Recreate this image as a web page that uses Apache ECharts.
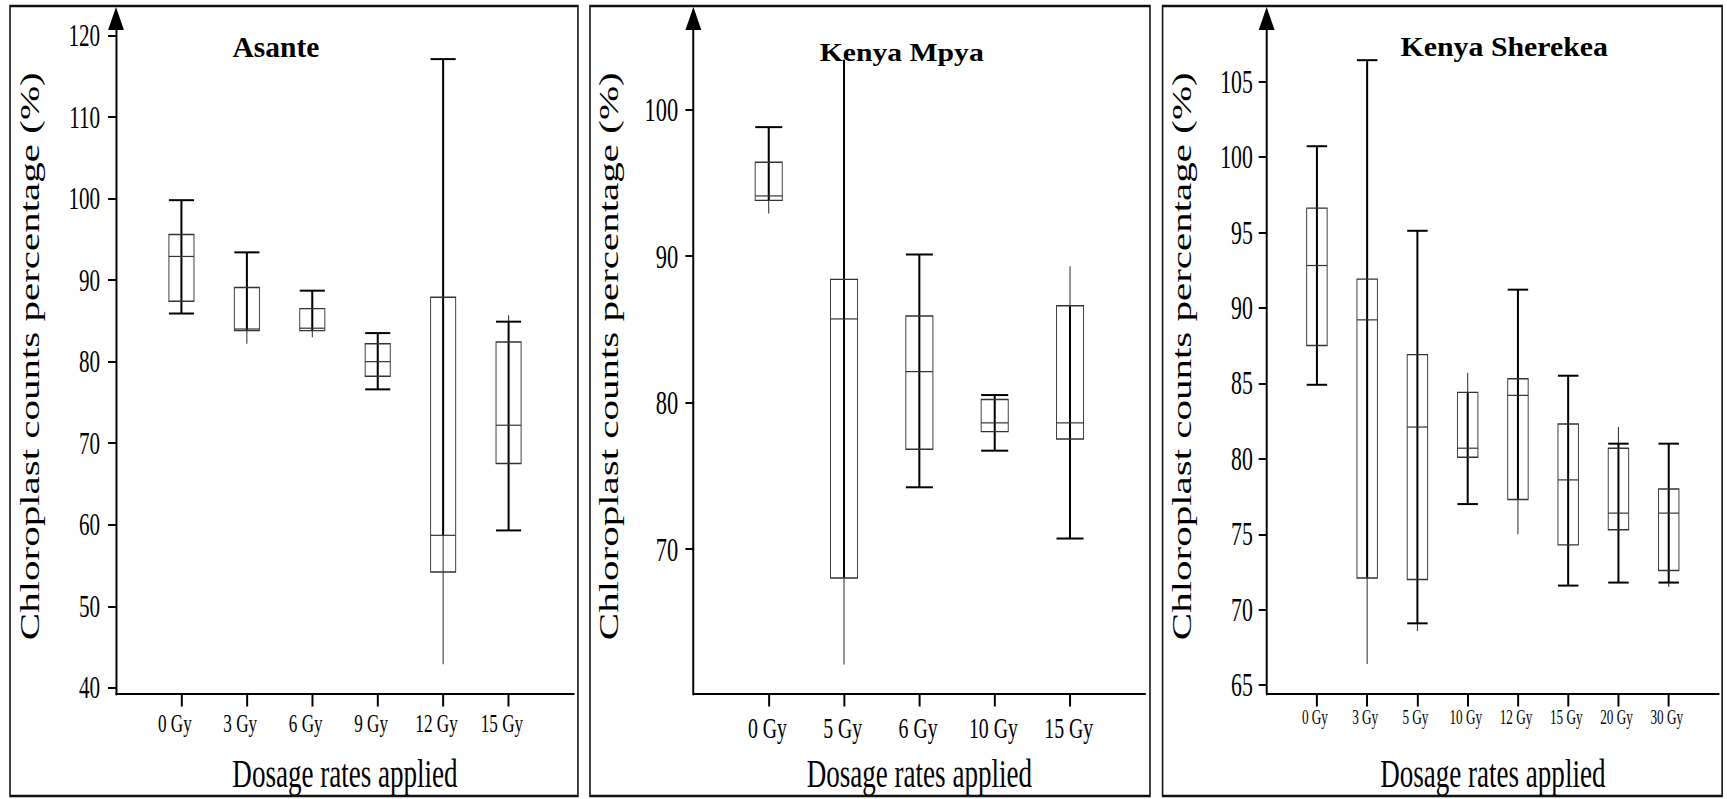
<!DOCTYPE html>
<html><head><meta charset="utf-8">
<script src="https://cdn.jsdelivr.net/npm/echarts@6/dist/echarts.min.js"></script>
<style>
html,body{margin:0;padding:0;overflow:hidden;background:#fff}
#wrap{width:1727px;height:799px;overflow:hidden;position:relative}
#chart{width:2617px;height:799px;transform:scaleX(0.65992);transform-origin:0 0}
</style></head><body><div id="wrap"><div id="chart"></div></div>
<script>
// ---------- Asante ----------
const asanteCategories = ['0 Gy','3 Gy','6 Gy','9 Gy','12 Gy','15 Gy'];
const asanteLow       = [85.9, 82.2, 83.0, 76.6, 42.9, 59.3];
const asanteThickLow  = [85.9, 83.8, 83.8, 76.6, 58.7, 59.3];
const asanteQ1        = [87.4, 83.8, 83.8, 78.2, 54.2, 67.5];
const asanteMedian    = [92.9, 84.0, 84.1, 80.0, 58.7, 72.2];
const asanteQ3        = [95.6, 89.1, 86.5, 82.2, 87.9, 82.4];
const asanteThickHigh = [99.8, 93.4, 88.7, 83.5, 117.1, 84.9];
const asanteHigh      = [99.8, 93.4, 88.7, 83.5, 117.1, 85.7];
const asanteCapLow    = [true, false, false, true, false, true];
const asanteCapHigh   = [true, true, true, true, true, true];
const asanteTicks     = [40, 50, 60, 70, 80, 90, 100, 110, 120];

// ---------- Kenya Mpya ----------
const mpyaCategories = ['0 Gy','5 Gy','6 Gy','10 Gy','15 Gy'];
const mpyaLow        = [92.9, 62.1, 74.2, 76.7, 70.7];
const mpyaThickLow   = [93.8, 68.0, 74.2, 76.7, 70.7];
const mpyaQ1         = [93.8, 68.0, 76.8, 78.0, 77.5];
const mpyaMedian     = [94.1, 85.7, 82.1, 78.6, 78.6];
const mpyaQ3         = [96.4, 88.4, 85.9, 80.2, 86.6];
const mpyaThickHigh  = [98.8, 103.4, 90.1, 80.5, 86.6];
const mpyaHigh       = [98.8, 103.4, 90.1, 80.5, 89.3];
const mpyaCapLow     = [false, false, true, true, true];
const mpyaCapHigh    = [true, false, true, true, false];
const mpyaTicks      = [70, 80, 90, 100];

// ---------- Kenya Sherekea ----------
const sherekeaCategories = ['0 Gy','3 Gy','5 Gy','10 Gy','12 Gy','15 Gy','20 Gy','30 Gy'];
const sherekeaLow        = [84.9, 66.4, 68.6, 77.0, 75.0, 71.6, 71.8, 71.5];
const sherekeaThickLow   = [84.9, 72.1, 69.1, 77.0, 77.3, 71.6, 71.8, 71.8];
const sherekeaQ1         = [87.5, 72.1, 72.0, 80.1, 77.3, 74.3, 75.3, 72.6];
const sherekeaMedian     = [92.8, 89.2, 82.1, 80.7, 84.2, 78.6, 76.4, 76.4];
const sherekeaQ3         = [96.6, 91.9, 86.9, 84.4, 85.3, 82.3, 80.7, 78.0];
const sherekeaThickHigh  = [100.7, 106.4, 95.1, 84.4, 91.2, 85.5, 81.0, 81.0];
const sherekeaHigh       = [100.7, 106.4, 95.1, 85.7, 91.2, 85.5, 82.1, 81.0];
const sherekeaCapLow     = [true, false, true, true, false, true, true, true];
const sherekeaCapHigh    = [true, true, true, false, true, true, true, true];
const sherekeaTicks      = [65, 70, 75, 80, 85, 90, 95, 100, 105];

const panelTitles = ['Asante', 'Kenya Mpya', 'Kenya Sherekea'];
const yAxisName = 'Chloroplast counts percentage (%)';
const xAxisName = 'Dosage rates applied';

// ---------- build ----------
const SERIF = 'Liberation Serif';
const panels = [
  {cats: asanteCategories, low: asanteLow, tl: asanteThickLow, q1: asanteQ1, med: asanteMedian, q3: asanteQ3, th: asanteThickHigh, high: asanteHigh, cl: asanteCapLow, ch: asanteCapHigh, ticks: asanteTicks,
   grid: {left: 175.8, top: 18.5, width: 694, height: 675.5}, min: 39.24, max: 122.08, boxW: 38,
   yLabelSize: 32, yMargin: 24, xLabelSize: 26, xMargin: 16, xPad: [0, 20, 0, 0], nameGapY: 110},
  {cats: mpyaCategories, low: mpyaLow, tl: mpyaThickLow, q1: mpyaQ1, med: mpyaMedian, q3: mpyaQ3, th: mpyaThickHigh, high: mpyaHigh, cl: mpyaCapLow, ch: mpyaCapHigh, ticks: mpyaTicks,
   grid: {left: 1050.7, top: 18.5, width: 684.9, height: 675.5}, min: 60.08, max: 106.22, boxW: 41,
   yLabelSize: 34, yMargin: 23, xLabelSize: 30, xMargin: 18, xPad: [0, 4, 0, 0], nameGapY: 108},
  {cats: sherekeaCategories, low: sherekeaLow, tl: sherekeaThickLow, q1: sherekeaQ1, med: sherekeaMedian, q3: sherekeaQ3, th: sherekeaThickHigh, high: sherekeaHigh, cl: sherekeaCapLow, ch: sherekeaCapHigh, ticks: sherekeaTicks,
   grid: {left: 1919.4, top: 18.5, width: 685.4, height: 675.5}, min: 64.42, max: 109.16, boxW: 31,
   yLabelSize: 33, yMargin: 21, xLabelSize: 20, xMargin: 13.5, xPad: [0, 6, 0, 0], nameGapY: 107}
];

function makeRender(boxW) {
  return function (params, api) {
    const i = api.value(0);
    const yy = k => api.coord([i, api.value(k)])[1];
    const x = api.coord([i, api.value(4)])[0];
    const yLow = yy(1), yTL = yy(2), yQ1 = yy(3), yMed = yy(4), yQ3 = yy(5), yTH = yy(6), yHigh = yy(7);
    const h = boxW / 2;
    const children = [
      {type: 'line', shape: {x1: x, y1: yLow, x2: x, y2: yHigh}, style: {stroke: '#333', lineWidth: 1.6}},
      {type: 'line', shape: {x1: x, y1: yTL, x2: x, y2: yTH}, style: {stroke: '#000', lineWidth: 3}},
      {type: 'rect', shape: {x: x - h, y: yQ3, width: boxW, height: yQ1 - yQ3}, style: {fill: 'none', stroke: '#333', lineWidth: 1.4}},
      {type: 'line', shape: {x1: x - h, y1: yMed, x2: x + h, y2: yMed}, style: {stroke: '#333', lineWidth: 1.2}}
    ];
    if (api.value(8)) children.push({type: 'line', shape: {x1: x - h, y1: yTL, x2: x + h, y2: yTL}, style: {stroke: '#000', lineWidth: 2}});
    if (api.value(9)) children.push({type: 'line', shape: {x1: x - h, y1: yTH, x2: x + h, y2: yTH}, style: {stroke: '#000', lineWidth: 2}});
    return {type: 'group', children};
  };
}

const grids = [], xAxes = [], yAxes = [], series = [];
panels.forEach((p, g) => {
  grids.push(Object.assign({containLabel: false}, p.grid));
  const padded = [''].concat(p.cats, ['']);
  const inner = (idx) => idx > 0 && idx < padded.length - 1;
  xAxes.push({
    type: 'category', gridIndex: g, data: padded, boundaryGap: false,
    axisLine: {show: true, lineStyle: {color: '#000', width: 2}},
    axisTick: {show: true, length: 12.5, interval: inner, lineStyle: {color: '#000', width: 3}},
    axisLabel: {interval: inner, fontFamily: SERIF, fontSize: p.xLabelSize, color: '#000', margin: p.xMargin, padding: p.xPad},
    splitLine: {show: false},
    name: xAxisName, nameLocation: 'middle', nameGap: 59,
    nameTextStyle: {fontFamily: SERIF, fontSize: 41, color: '#000'}
  });
  yAxes.push({
    type: 'value', gridIndex: g, min: p.min, max: p.max,
    axisLine: {show: true, symbol: ['none', 'triangle'], symbolSize: [24, 23], lineStyle: {color: '#000', width: 3}},
    axisTick: {show: true, length: 12, customValues: p.ticks, lineStyle: {color: '#000', width: 2}},
    axisLabel: {customValues: p.ticks, fontFamily: SERIF, fontSize: p.yLabelSize, color: '#000', margin: p.yMargin, padding: [0, 0, 16, 0]},
    splitLine: {show: false},
    name: yAxisName, nameLocation: 'middle', nameGap: p.nameGapY, nameRotate: 90,
    nameTextStyle: {fontFamily: SERIF, fontSize: 41, color: '#000'}
  });
  const data = p.cats.map((c, i) => [i + 1, p.low[i], p.tl[i], p.q1[i], p.med[i], p.q3[i], p.th[i], p.high[i], p.cl[i] ? 1 : 0, p.ch[i] ? 1 : 0]);
  series.push({
    type: 'custom', name: panelTitles[g], xAxisIndex: g, yAxisIndex: g, clip: false,
    encode: {x: 0, y: [1, 7]}, renderItem: makeRender(p.boxW), data, silent: true
  });
});

const borders = [[15.2, 875.8], [894, 1742.6], [1761.7, 2609.6]].map(b => ({
  type: 'rect', silent: true, z: 100,
  shape: {x: b[0], y: 6, width: b[1] - b[0], height: 790},
  style: {fill: 'none', stroke: '#111', lineWidth: 2.4}
}));
const titleSpecs = [
  {x: 418.2, y: 46.7, size: 30, sx: 1.49},
  {x: 1366.5, y: 51.7, size: 26, sx: 1.73},
  {x: 2279.5, y: 47.1, size: 27, sx: 1.675}
];
const titles = titleSpecs.map((t, i) => ({
  type: 'text', silent: true, z: 101, x: t.x, y: t.y, scaleX: t.sx,
  style: {text: panelTitles[i], x: 0, y: 0, align: 'center', textAlign: 'center', verticalAlign: 'middle', textVerticalAlign: 'middle',
          fontFamily: SERIF, fontWeight: 'bold', fontSize: t.size, fill: '#000'}
}));

const chart = echarts.init(document.getElementById('chart'), null, {renderer: 'svg', width: 2617, height: 799});
chart.setOption({
  animation: false,
  backgroundColor: '#fff',
  grid: grids, xAxis: xAxes, yAxis: yAxes, series,
  graphic: borders.concat(titles)
});
</script></body></html>
